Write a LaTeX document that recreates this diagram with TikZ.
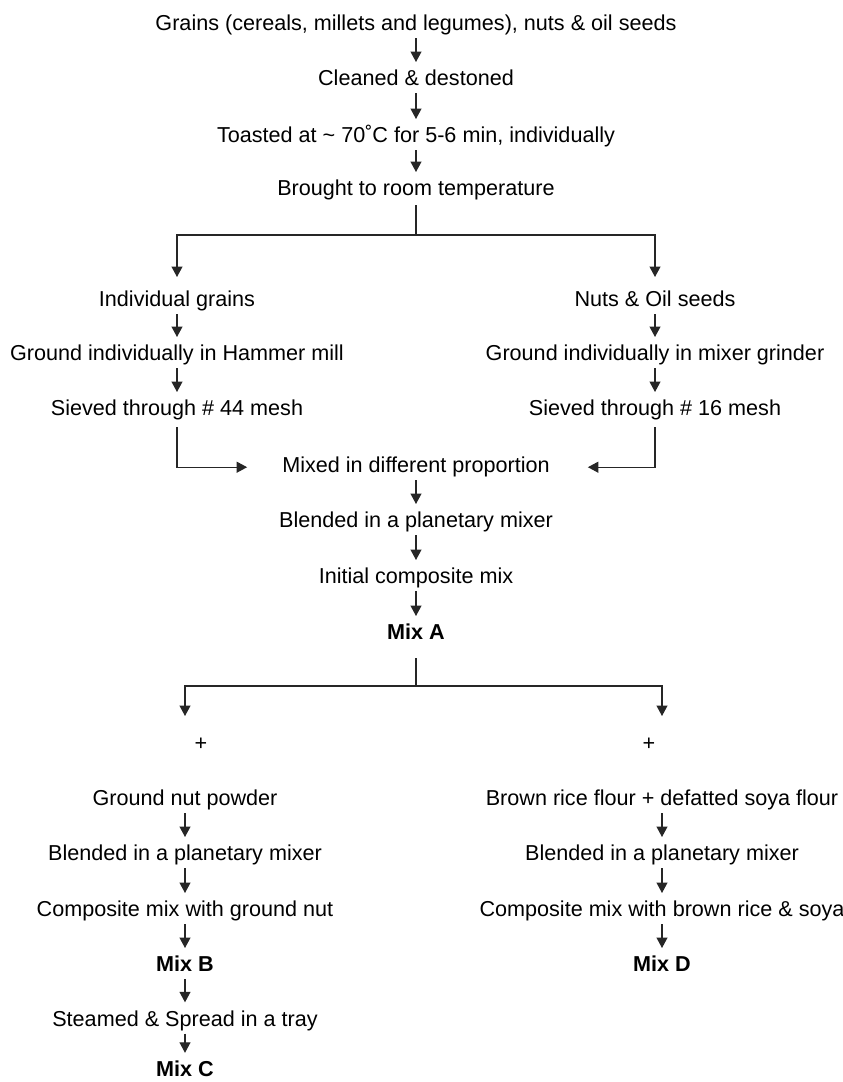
\documentclass[tikz,border=0pt]{standalone}
\usepackage{fontspec}
\setmainfont{Liberation Sans}
\usetikzlibrary{arrows.meta}
\begin{document}
\begin{tikzpicture}[x=1pt,y=-1pt,
  lbl/.style={inner sep=0pt, text height=15.5pt, text depth=4.5pt, anchor=base, font=\fontsize{21.6}{26}\selectfont},
  bl/.style={lbl, font=\fontsize{21.6}{26}\selectfont\bfseries},
  ln/.style={line width=1.2pt, draw=black!85},
  arr/.style={ln, -{Triangle[length=10.5pt,width=11pt]}},
  sarr/.style={arr, shorten <=3pt, shorten >=8pt}]
\useasboundingbox (0,0) rectangle (843,1082);
% top column
\node[lbl] (g)  at (416,30.7)  {Grains (cereals, millets and legumes), nuts \& oil seeds};
\node[lbl] (cl) at (416,85.7)  {Cleaned \& destoned};
\node[lbl] (to) at (416,142.7) {Toasted at \textasciitilde{} 70˚C for 5-6 min, individually};
\node[lbl] (br) at (416,195.7) {Brought to room temperature};
\draw[sarr] (g) -- (cl);
\draw[sarr] (cl) -- (to);
\draw[sarr] (to) -- (br);
% upper branches
\coordinate (j1) at (416,235);
\node[lbl] (ig) at (177,306.7) {Individual grains};
\node[lbl] (gh) at (177,360.7) {Ground individually in Hammer mill};
\node[lbl] (s1) at (177,415.7) {Sieved through \# 44 mesh};
\node[lbl] (ns) at (655,306.7) {Nuts \& Oil seeds};
\node[lbl] (gm) at (655,360.7) {Ground individually in mixer grinder};
\node[lbl] (s2) at (655,415.7) {Sieved through \# 16 mesh};
\draw[ln, shorten <=5pt] (br) -- (j1);
\draw[arr] (j1) -| ([yshift=14pt]ig.north);
\draw[arr] (j1) -| ([yshift=14pt]ns.north);
\draw[sarr] (ig) -- (gh);
\draw[sarr] (gh) -- (s1);
\draw[sarr] (ns) -- (gm);
\draw[sarr] (gm) -- (s2);
% merge
\node[lbl] (mx) at (416,472.7) {Mixed in different proportion};
\node[lbl] (b1) at (416,527.7) {Blended in a planetary mixer};
\node[lbl] (ic) at (416,583.7) {Initial composite mix};
\node[bl]  (ma) at (416,639.7) {Mix A};
\draw[arr, shorten <=7pt] (s1.south) |- ([xshift=-35pt]mx.west);
\draw[arr, shorten <=7pt] (s2.south) |- ([xshift=38pt]mx.east);
\draw[sarr] (mx) -- (b1);
\draw[sarr] (b1) -- (ic);
\draw[sarr] (ic) -- (ma);
% lower branches
\coordinate (j2) at (416,686);
\coordinate (t1) at (185,716);
\coordinate (t2) at (662,716);
\draw[ln, shorten <=14pt] (ma) -- (j2);
\draw[arr] (j2) -| (t1);
\draw[arr] (j2) -| (t2);
\node[lbl] (p1) at (201,750) {+};
\node[lbl] (p2) at (649,750) {+};
% lower left column
\node[lbl] (gn) at (185,805.7)  {Ground nut powder};
\node[lbl] (b2) at (185,860.7)  {Blended in a planetary mixer};
\node[lbl] (cg) at (185,916.7)  {Composite mix with ground nut};
\node[bl]  (mb) at (185,971.7)  {Mix B};
\node[lbl] (st) at (185,1026)   {Steamed \& Spread in a tray};
\node[bl]  (mc) at (185,1076.5) {Mix C};
\draw[sarr] (gn) -- (b2);
\draw[sarr] (b2) -- (cg);
\draw[sarr] (cg) -- (mb);
\draw[sarr] (mb) -- (st);
\draw[sarr] (st) -- (mc);
% lower right column
\node[lbl] (bf) at (662,805.7) {Brown rice flour + defatted soya flour};
\node[lbl] (b3) at (662,860.7) {Blended in a planetary mixer};
\node[lbl] (cb) at (662,916.7) {Composite mix with brown rice \& soya};
\node[bl]  (md) at (662,971.7) {Mix D};
\draw[sarr] (bf) -- (b3);
\draw[sarr] (b3) -- (cb);
\draw[sarr] (cb) -- (md);
\end{tikzpicture}
\end{document}
